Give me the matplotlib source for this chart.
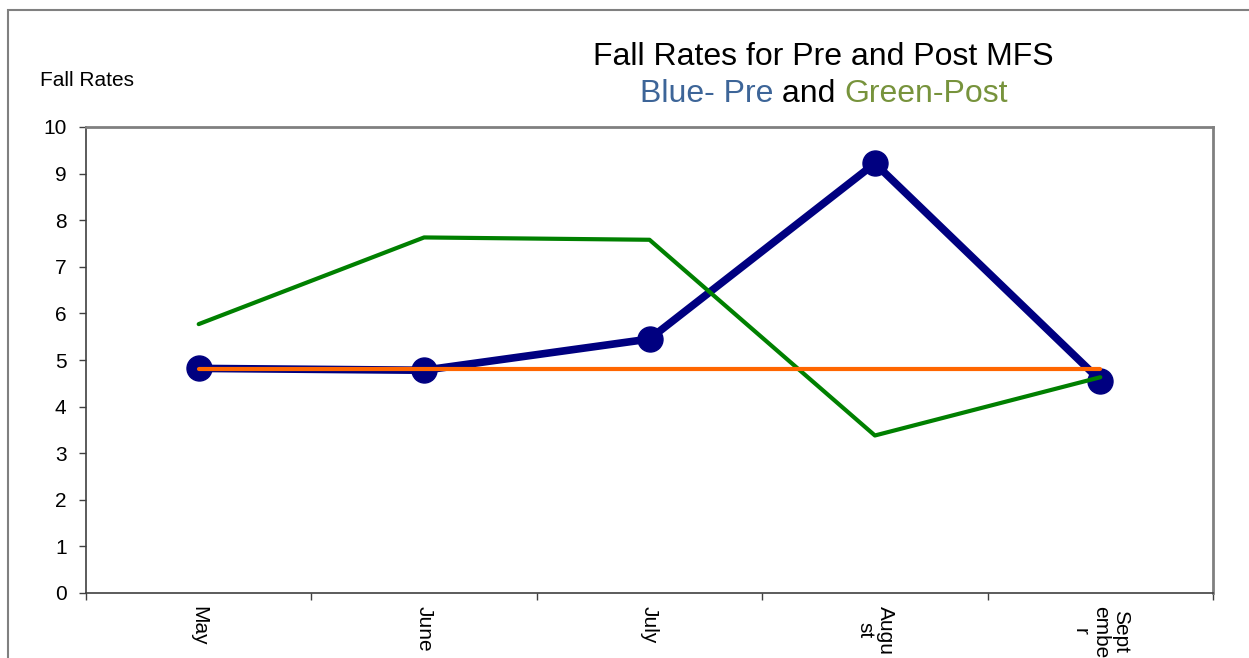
import matplotlib
matplotlib.use("Agg")
import matplotlib.pyplot as plt
from matplotlib.patches import Rectangle

plt.rcParams['font.family'] = ['Liberation Sans', 'DejaVu Sans']

# data
months = ["May", "June", "July", "Augu\nst", "Sept\nembe\nr"]
pre_rates = [4.82, 4.78, 5.45, 9.22, 4.56]     # blue - pre MFS
post_rates = [5.77, 7.63, 7.58, 3.38, 4.63]    # green - post MFS
baseline = [4.81, 4.81, 4.81, 4.81, 4.81]      # orange reference line

W, H = 1249, 658
fig = plt.figure(figsize=(W / 100, H / 100), dpi=100)

# outer chart border (runs off the right and bottom edge)
fig.patches.append(Rectangle((8 / W, -0.1), 1.2, 1 - 10 / H + 0.1, transform=fig.transFigure,
                             fill=False, edgecolor="#808080", lw=1.5))

ax = fig.add_axes([86 / W, 1 - 593 / H, (1213 - 86) / W, (593 - 127) / H])

x = list(range(len(months)))
ax.plot(x, pre_rates, color="#000080", lw=5.5, marker="o", markersize=18,
        solid_capstyle="round", solid_joinstyle="round", zorder=3)
ax.plot(x, post_rates, color="#008000", lw=3, solid_capstyle="round", zorder=4)
ax.plot(x, baseline, color="#FF6600", lw=3, solid_capstyle="round", zorder=5)

ax.set_xlim(-0.5, len(months) - 0.5)
ax.set_ylim(0, 10)
ax.set_yticks(range(0, 11))
ax.tick_params(axis="y", labelsize=15, length=5, width=1, pad=9, color="#404040")

# ticks at category boundaries, labels at centers
ax.set_xticks([i - 0.5 for i in range(len(months) + 1)])
ax.set_xticklabels([])
ax.tick_params(axis="x", length=5, width=1, color="#404040")
for i, m in enumerate(months):
    ax.annotate(m, xy=(i, 0), xycoords=("data", "axes fraction"), xytext=(0, -9),
                textcoords="offset points", rotation=270, ha="center", va="top",
                multialignment="center", fontsize=15, linespacing=1.1,
                annotation_clip=False)

for s in ["top", "right"]:
    ax.spines[s].set_color("#808080")
    ax.spines[s].set_linewidth(2)
for s in ["left", "bottom"]:
    ax.spines[s].set_color("#404040")
    ax.spines[s].set_linewidth(1.2)

fig.text(40 / W, 1 - 86 / H, "Fall Rates", fontsize=15, va="baseline", ha="left")
fig.text(823 / W, 1 - 65 / H, "Fall Rates for Pre and Post MFS", fontsize=23,
         ha="center", va="baseline")

# two-colour subtitle, pieces chained one after another
t1 = fig.text(640 / W, 1 - 102 / H, "Blue- Pre", fontsize=23, color="#3D6598", va="baseline")
t2 = fig.text(0, 0, " and ", fontsize=23, color="black", va="baseline")
t3 = fig.text(0, 0, "Green-Post", fontsize=23, color="#77933C", va="baseline")
fig.canvas.draw()
r = fig.canvas.get_renderer()
x_pos = t1.get_window_extent(r).x1
t2.set_position((x_pos / W, 1 - 102 / H))
x_pos = t2.get_window_extent(r).x1
t3.set_position((x_pos / W, 1 - 102 / H))

fig.savefig("out.png", dpi=100)
